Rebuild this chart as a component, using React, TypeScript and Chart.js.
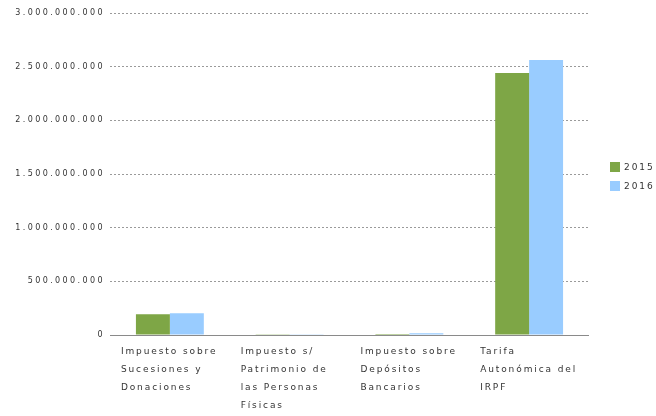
import React, { useEffect, useRef } from "react";
import { Chart, registerables } from "chart.js";

Chart.register(...registerables);

const categories: string[][] = [
  ["Impuesto sobre", "Sucesiones y", "Donaciones"],
  ["Impuesto s/", "Patrimonio de", "las Personas", "Físicas"],
  ["Impuesto sobre", "Depósitos", "Bancarios"],
  ["Tarifa", "Autonómica del", "IRPF"],
];
const seriesNames = ["2015", "2016"];
const values2015 = [193000000, 1500000, 9000000, 2441000000];
const values2016 = [202000000, 2000000, 17000000, 2562000000];
const colors = ["#7EA646", "#99CCFF"];
const yMax = 3000000000;
const yStep = 500000000;

const FONT = "DejaVu Sans";
const TEXT = "#333333";

function fmt(v: number): string {
  return Math.round(v)
    .toString()
    .replace(/\B(?=(\d{3})+(?!\d))/g, ".");
}

const customPlugin = {
  id: "custom",
  beforeDraw(chart: any) {
    chart.ctx.letterSpacing = "2.4px";
  },
  beforeDatasetsDraw(chart: any) {
    const { ctx, chartArea, scales } = chart;
    const y0 = Math.round(scales.y.getPixelForValue(0)) + 0.5;
    ctx.save();
    ctx.strokeStyle = "#8a8a8a";
    ctx.lineWidth = 1;
    ctx.beginPath();
    ctx.moveTo(chartArea.left, y0);
    ctx.lineTo(chartArea.right, y0);
    ctx.stroke();
    ctx.restore();
  },
  afterDraw(chart: any) {
    const { ctx, scales } = chart;
    const xs = scales.x;
    const y0 = scales.y.getPixelForValue(0);
    ctx.save();
    ctx.letterSpacing = "1.9px";
    ctx.fillStyle = TEXT;
    ctx.font = `9px "${FONT}"`;
    ctx.textAlign = "left";
    ctx.textBaseline = "middle";
    categories.forEach((lines, i) => {
      const cx = xs.getPixelForValue(i);
      lines.forEach((line, j) => {
        ctx.fillText(line, cx - 49, y0 + 17 + j * 18);
      });
    });
    // legend
    const lx = chart.chartArea.right + 21;
    seriesNames.forEach((name, i) => {
      const ly = 162 + i * 19;
      ctx.fillStyle = colors[i];
      ctx.fillRect(lx, ly, 10, 10);
      ctx.fillStyle = TEXT;
      ctx.fillText(name, lx + 14, ly + 6);
    });
    ctx.restore();
  },
};

export default function App() {
  const ref = useRef<HTMLCanvasElement | null>(null);
  useEffect(() => {
    if (!ref.current) return;
    const chart = new Chart(ref.current, {
      type: "bar",
      data: {
        labels: categories.map((c) => c.join(" ")),
        datasets: [
          {
            label: seriesNames[0],
            data: values2015,
            backgroundColor: colors[0],
            barPercentage: 1,
            categoryPercentage: 0.567,
          },
          {
            label: seriesNames[1],
            data: values2016,
            backgroundColor: colors[1],
            barPercentage: 1,
            categoryPercentage: 0.567,
          },
        ],
      },
      options: {
        responsive: false,
        animation: false,
        devicePixelRatio: 1,
        layout: { padding: { top: 13, right: 67, left: 0, bottom: 0 } },
        plugins: {
          legend: { display: false },
          tooltip: { enabled: false },
          title: { display: false },
        },
        scales: {
          x: {
            grid: { display: false, drawTicks: false },
            border: { display: false },
            ticks: { display: false },
            afterFit: (s: any) => {
              s.height = 81;
            },
          },
          y: {
            min: 0,
            max: yMax,
            border: { display: false, dash: [2, 2] },
            grid: {
              drawTicks: false,
              color: (c: any) =>
                c.tick && c.tick.value === 0 ? "rgba(0,0,0,0)" : "#9a9a9a",
            },
            ticks: {
              stepSize: yStep,
              padding: 5,
              color: TEXT,
              font: { family: FONT, size: 8 },
              callback: (v: any) => fmt(Number(v)),
            },
            afterFit: (s: any) => {
              s.width = 110;
            },
          },
        },
      },
      plugins: [customPlugin],
    });
    return () => chart.destroy();
  }, []);
  return (
    <div style={{ position: "absolute", left: 0, top: 0, width: 656, height: 416 }}>
      <canvas ref={ref} width={656} height={416} style={{ width: 656, height: 416 }} />
    </div>
  );
}
